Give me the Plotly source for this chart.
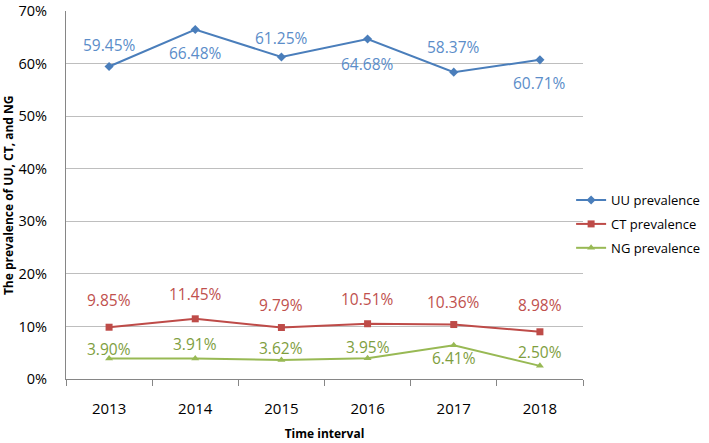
import plotly.graph_objects as go

years = ["2013", "2014", "2015", "2016", "2017", "2018"]
uu = [59.45, 66.48, 61.25, 64.68, 58.37, 60.71]
ct = [9.85, 11.45, 9.79, 10.51, 10.36, 8.98]
ng = [3.90, 3.91, 3.62, 3.95, 6.41, 2.50]
y_ticks = [0, 10, 20, 30, 40, 50, 60, 70]

# label offsets in pixels (style only)
uu_shift = [21, -23, 19, -25, 25, -23]
ct_shift = [27, 25, 23, 25, 23, 27]
ng_shift = [10, 14, 12, 11, -13, 14]

series = [
    ("UU prevalence", uu, uu_shift, "#4A7EBB", "#5B8DC9", "diamond", 7),
    ("CT prevalence", ct, ct_shift, "#BE4B48", "#C0504D", "square", 7),
    ("NG prevalence", ng, ng_shift, "#98B954", "#7E9E3E", "triangle-up", 7),
]

FONT = "Open Sans, sans-serif"
fig = go.Figure()
annotations = []
for name, vals, shifts, color, lcolor, sym, size in series:
    fig.add_trace(go.Scatter(
        x=years, y=vals, name=name, mode="lines+markers",
        line=dict(color=color, width=2),
        marker=dict(symbol=sym, size=size, color=color),
        legendgroup=name,
    ))
    for i, (v, s) in enumerate(zip(vals, shifts)):
        annotations.append(dict(
            x=i, y=v, xref="x", yref="y", text=f"{v:.2f}%", showarrow=False,
            yshift=s, font=dict(family=FONT, size=15.5, color=lcolor),
        ))

annotations.append(dict(
    text="The prevalence of UU, CT, and NG", xref="paper", yref="paper",
    x=-0.112, y=0.5, xanchor="center", yanchor="middle", textangle=-90, showarrow=False,
    font=dict(family=FONT, size=12, color="#000000", weight="bold"),
))

fig.update_layout(
    width=709, height=443,
    margin=dict(l=66, r=126, t=11, b=64, autoexpand=False),
    plot_bgcolor="white", paper_bgcolor="white",
    font=dict(family=FONT, color="#000000"),
    showlegend=True,
    legend=dict(x=0.977, y=0.527, xanchor="left", yanchor="top",
                font=dict(size=13), tracegroupgap=4, bgcolor="rgba(0,0,0,0)",
                itemwidth=30),
    annotations=annotations,
    xaxis=dict(
        type="category", showgrid=False, showline=True, linecolor="#868686",
        ticks="outside", ticklen=6, tickcolor="#868686", tickson="boundaries",
        tickfont=dict(size=15), range=[-0.5, 5.5], automargin=False,
        ticklabelstandoff=16,
        title=dict(text="Time interval", font=dict(size=12, weight="bold"), standoff=12),
    ),
    yaxis=dict(
        range=[0, 70], tickvals=y_ticks, ticktext=[f"{t}%" for t in y_ticks],
        showgrid=True, gridcolor="#BEBEBE", gridwidth=1,
        showline=True, linecolor="#868686", zeroline=False,
        tickfont=dict(size=14.5), ticks="", ticklabelstandoff=15, automargin=False,
        ticklabeloverflow="allow",
    ),
)

fig.write_html("out.html", config={"displayModeBar": False},
               post_script="document.body.style.margin='0';")
